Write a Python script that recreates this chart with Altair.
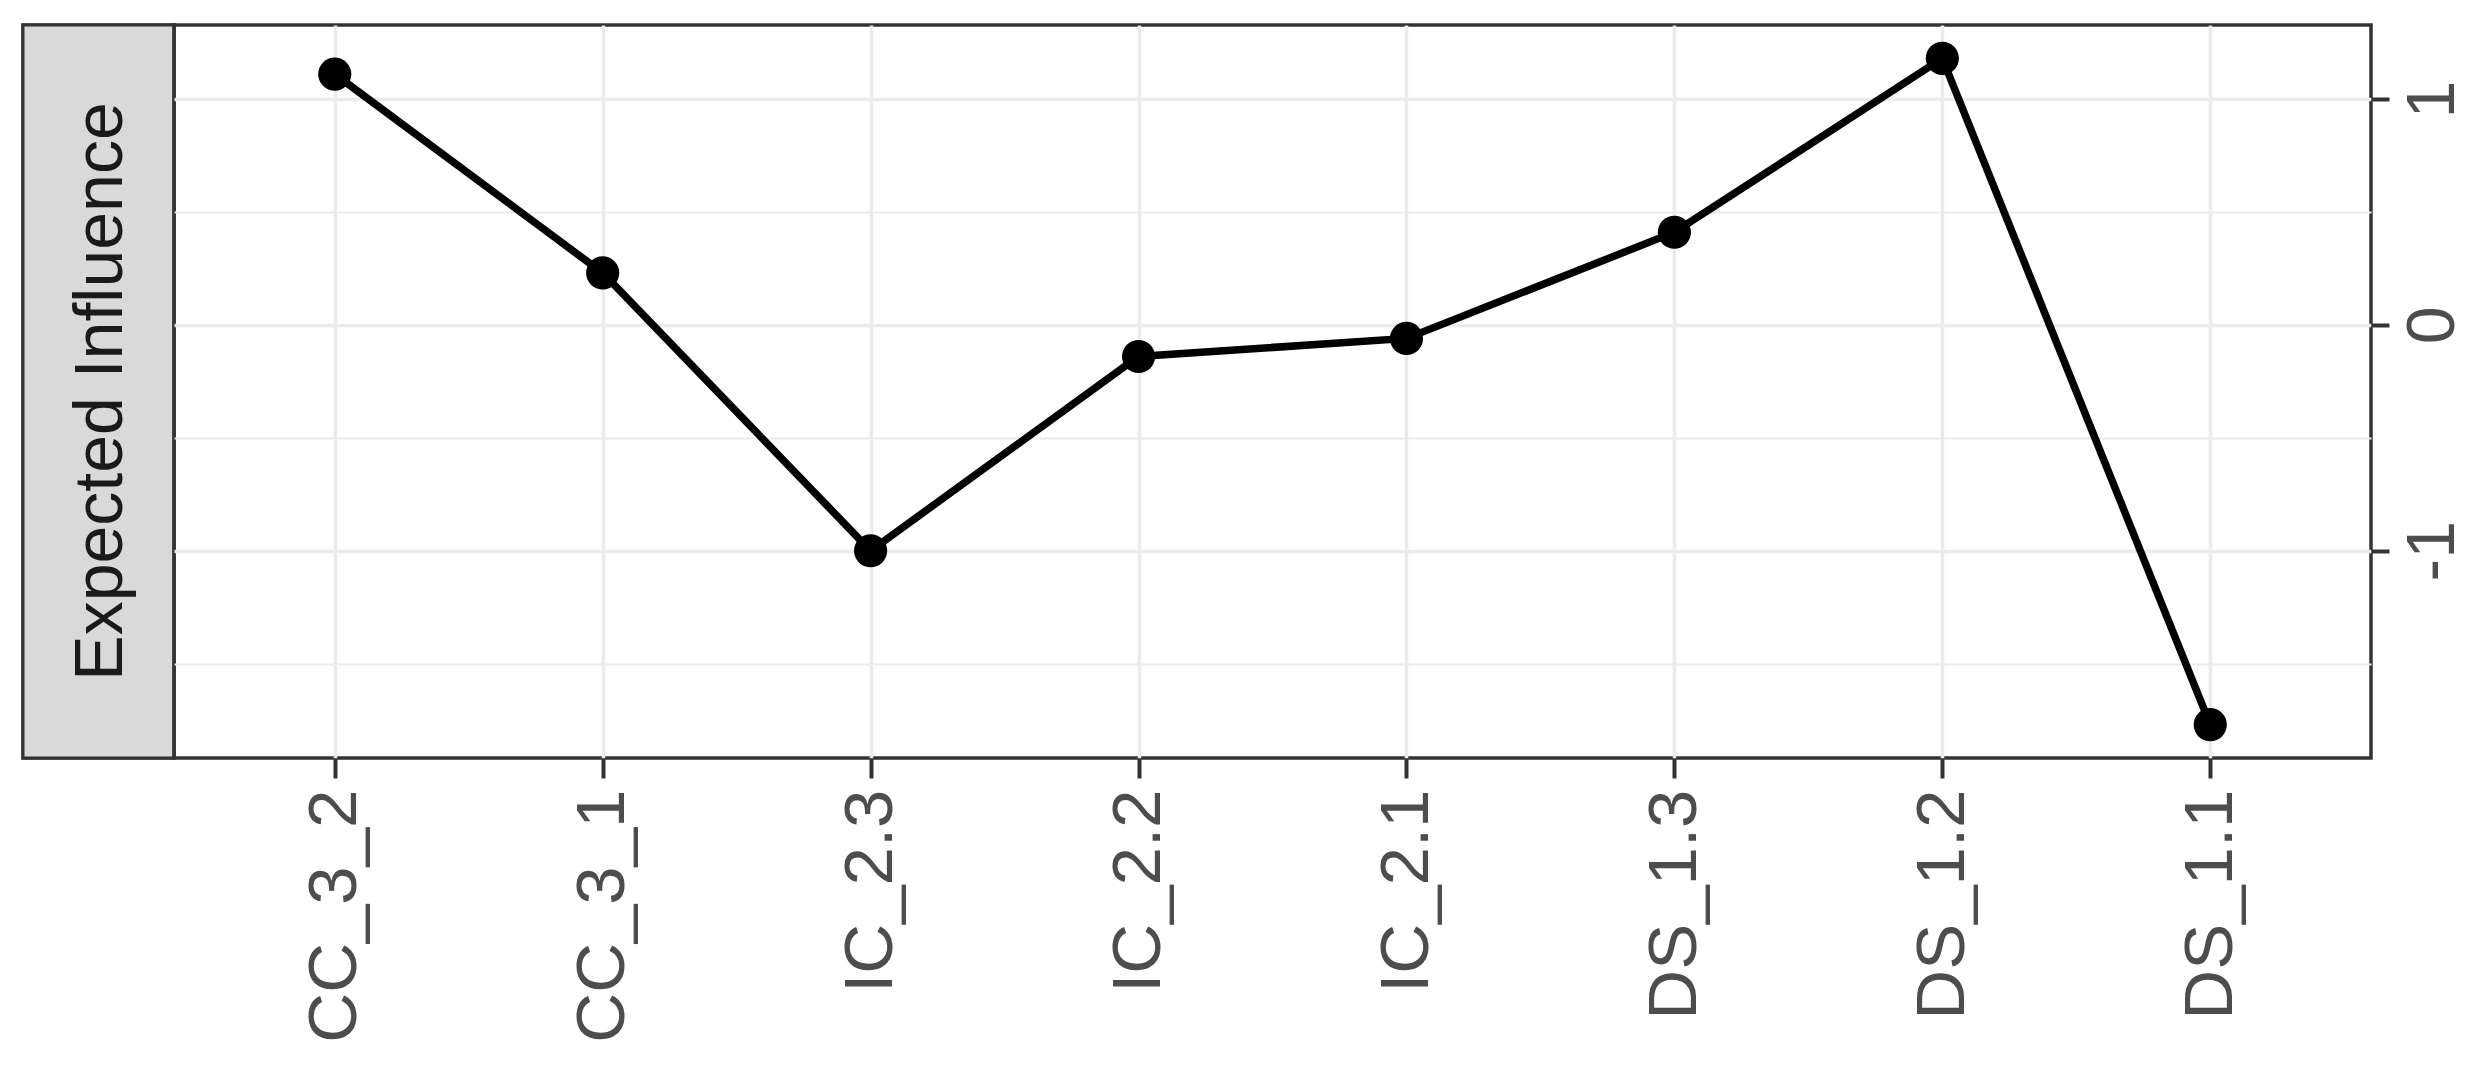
import altair as alt
import pandas as pd

nodes = ["CC_3_2", "CC_3_1", "IC_2.3", "IC_2.2", "IC_2.1", "DS_1.3", "DS_1.2", "DS_1.1"]
values = [1.11, 0.23, -1.00, -0.14, -0.06, 0.41, 1.18, -1.77]
y_ticks = [-1.5, -1, -0.5, 0, 0.5, 1]
strip_label = ["Expected Influence"]

df = pd.DataFrame({"node": nodes, "value": values})
FONT = "Liberation Sans"
PW, PH = 2197, 733
SW = 151

base = alt.Chart(df).encode(
    x=alt.X("node:N", sort=nodes,
            scale=alt.Scale(type="point", padding=0.6),
            axis=alt.Axis(title=None, labelAngle=270, labelFontSize=69, labelFont=FONT,
                          labelColor="#4d4d4d", labelLimit=0, tickSize=20, tickWidth=4,
                          tickColor="#333333", labelPadding=11, grid=True,
                          gridColor="#ebebeb", gridWidth=3.5, domain=False)),
    y=alt.Y("value:Q",
            scale=alt.Scale(domain=[-1.9175, 1.3275], nice=False, zero=False),
            axis=alt.Axis(title=None, orient="right", values=y_ticks,
                          labelExpr="datum.value % 1 === 0 ? '' + datum.value : ''",
                          labelAngle=270, labelAlign="center", labelBaseline="top",
                          labelFontSize=68, labelFont=FONT, labelColor="#4d4d4d",
                          labelPadding=10, tickSize=18, tickWidth=4, tickColor="#333333",
                          tickOpacity={"condition": {"test": "datum.value % 1 === 0", "value": 1}, "value": 0},
                          grid=True, gridColor="#ebebeb",
                          gridWidth={"condition": {"test": "datum.value % 1 === 0", "value": 3.5}, "value": 2},
                          domain=False)),
)

line = base.mark_line(color="black", strokeWidth=7.5)
pts = base.mark_point(filled=True, color="black", size=1100, opacity=1)
main = alt.layer(line, pts).properties(width=PW, height=PH)

sdf = pd.DataFrame({"lab": strip_label})
strip_rect = alt.Chart(sdf).mark_rect(fill="#d9d9d9", stroke="#333333", strokeWidth=3).encode(
    x=alt.value(0), x2=alt.value(SW), y=alt.value(0), y2=alt.value(PH))
strip_text = alt.Chart(sdf).mark_text(angle=270, fontSize=68, font=FONT, color="#1a1a1a",
                                      align="center", baseline="middle").encode(
    x=alt.value(SW / 2 + 3), y=alt.value(PH / 2), text="lab:N")
strip = alt.layer(strip_rect, strip_text).properties(width=SW, height=PH)

chart = alt.hconcat(strip, main, spacing=0, bounds="flush").properties(
    padding={"left": 11, "top": 13, "right": 5, "bottom": 5}
).configure_view(stroke="#333333", strokeWidth=3.5).configure_concat(spacing=0)

chart.save("out.html", embed_options={"renderer": "svg", "actions": False})
